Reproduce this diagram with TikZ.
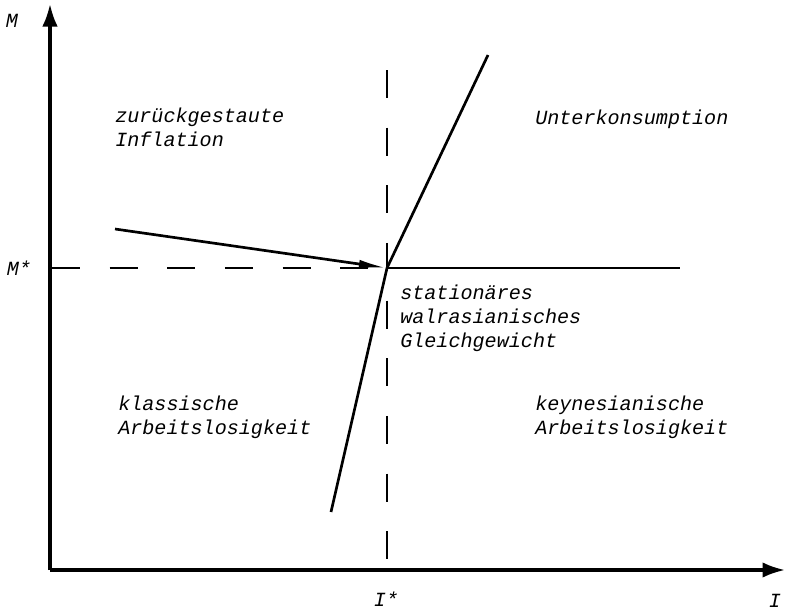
\documentclass[tikz,border=0pt]{standalone}
\usepackage{fontspec}
\setmonofont{Liberation Mono}
\usetikzlibrary{arrows.meta}
\newcommand\regionfont{\ttfamily\itshape\fontsize{14.3}{17}\selectfont}
\begin{document}
\begin{tikzpicture}[x=0.025cm,y=-0.025cm,
  axis/.style={line width=2.2pt,-{Latex[length=16pt,width=11pt]}},
  curve/.style={line width=1.9pt},
  guide/.style={line width=1.9pt,dash pattern=on 20pt off 21pt},
  region/.style={font=\regionfont,align=left,anchor=west,inner sep=0pt},
  axlabel/.style={font=\regionfont,inner sep=0pt}]
\useasboundingbox (0,0) rectangle (785,612);
\coordinate (O) at (50,570);
\coordinate (ytop) at (50,4);
\coordinate (xend) at (785,570);
\coordinate (E) at (387,268);
\coordinate (Mleft) at (52,268);
\coordinate (Itop) at (387,70);
\coordinate (Ibot) at (387,570);
\coordinate (Lstart) at (115,229);
\coordinate (Rend) at (680,268);
\coordinate (Sbot) at (331,512);
\coordinate (Stop) at (488,55);
\draw[axis] (O) -- (ytop);
\draw[axis] (O) -- (xend);
\draw[guide] (Mleft) -- (E);
\draw[guide] (Itop) -- (Ibot);
\draw[curve,-{Latex[length=20pt,width=6pt]}] (Lstart) -- (E);
\draw[curve] (E) -- (Rend);
\draw[curve] (Sbot) -- (E) -- (Stop);
\node[axlabel] (mlab) at (12,21) {M};
\node[axlabel] (mstar) at (19,268) {M*};
\node[axlabel] (istar) at (386,599) {I*};
\node[axlabel] (ilab) at (775,601) {I};
\node[region] (inflation) at (115,127) {zurückgestaute\\Inflation};
\node[region] (unterkons) at (535,119) {Unterkonsumption};
\node[region] (walras) at (400,318) {stationäres\\walrasianisches\\Gleichgewicht};
\node[region] (klassisch) at (118,417) {klassische\\Arbeitslosigkeit};
\node[region] (keynes) at (535,417) {keynesianische\\Arbeitslosigkeit};
\end{tikzpicture}
\end{document}
